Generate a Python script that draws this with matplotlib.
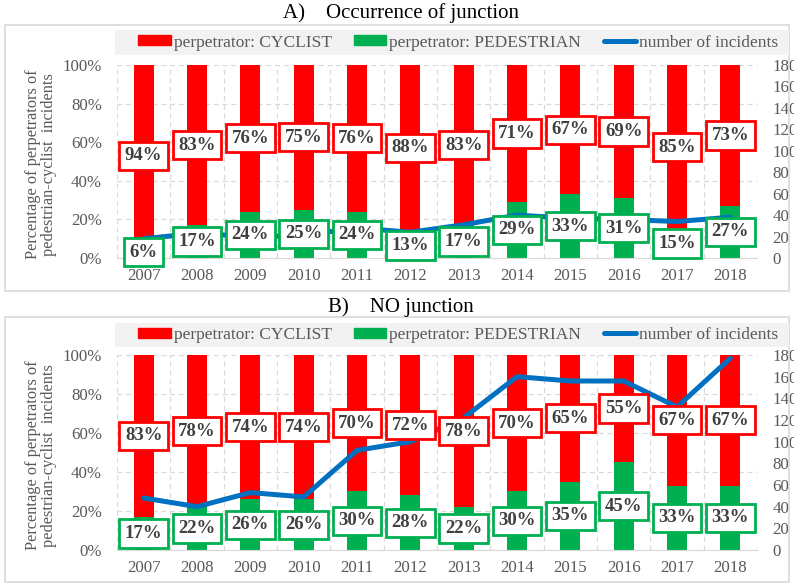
import matplotlib.pyplot as plt
from matplotlib.patches import Rectangle
from matplotlib.lines import Line2D
import numpy as np

plt.rcParams['font.family'] = ['Liberation Serif', 'DejaVu Serif']

years = ['2007', '2008', '2009', '2010', '2011', '2012',
         '2013', '2014', '2015', '2016', '2017', '2018']

# A) occurrence of junction
cyclist_a = [94, 83, 76, 75, 76, 88, 83, 71, 67, 69, 85, 73]
pedestrian_a = [6, 17, 24, 25, 24, 13, 17, 29, 33, 31, 15, 27]
incidents_a = [18, 23, 20, 21, 28, 24, 31, 40, 37, 36, 34, 38]

# B) no junction
cyclist_b = [83, 78, 74, 74, 70, 72, 78, 70, 65, 55, 67, 67]
pedestrian_b = [17, 22, 26, 26, 30, 28, 22, 30, 35, 45, 33, 33]
incidents_b = [48, 40, 53, 49, 92, 100, 122, 160, 156, 156, 132, 177]

RED = '#FF0000'
GREEN = '#00B050'
BLUE = '#0070C0'
GRAY = '#595959'
GRID = '#D9D9D9'

fig = plt.figure(figsize=(7.94, 5.83), dpi=100)


def panel(box, ax_rect, band, title_y, title, cyc, ped, inc):
    # frame round the panel and grey legend band
    fig.patches.append(Rectangle((box[0], box[1]), box[2], box[3],
                                 transform=fig.transFigure, fill=False,
                                 edgecolor=GRID, lw=1.2))
    fig.patches.append(Rectangle((band[0], band[1]), band[2], band[3],
                                 transform=fig.transFigure,
                                 facecolor='#F2F2F2', edgecolor='none'))
    fig.text(0.505, title_y, title, ha='center', va='center', fontsize=15)

    ax = fig.add_axes(ax_rect)
    x = np.arange(len(years))
    ax.bar(x, ped, width=0.38, color=GREEN)
    ax.bar(x, cyc, bottom=ped, width=0.38, color=RED)
    ax.set_xlim(-0.5, len(years) - 0.5)
    ax.set_ylim(0, 100)
    ax.set_yticks(np.arange(0, 101, 20))
    ax.set_yticklabels(['%d%%' % v for v in range(0, 101, 20)])
    ax.set_xticks(x)
    ax.set_xticklabels(years)
    ax.set_xticks(np.arange(-0.5, len(years), 1), minor=True)
    ax.set_axisbelow(True)
    ax.grid(axis='y', which='major', ls=(0, (4, 3)), color=GRID, lw=0.9)
    ax.grid(axis='x', which='minor', ls=(0, (4, 3)), color=GRID, lw=0.9)
    for s in ['top', 'left', 'right']:
        ax.spines[s].set_visible(False)
    ax.spines['bottom'].set_color(GRID)
    ax.tick_params(axis='both', which='both', length=0, colors=GRAY,
                   labelsize=12.2)
    ax.tick_params(axis='y', pad=11)
    ax.tick_params(axis='x', pad=7)

    ax2 = ax.twinx()
    ax2.plot(x, inc, color=BLUE, lw=3.6, solid_capstyle='round',
             solid_joinstyle='round')
    ax2.set_ylim(0, 180)
    ax2.set_yticks(np.arange(0, 181, 20))
    for s in ax2.spines.values():
        s.set_visible(False)
    ax2.tick_params(axis='y', length=0, colors=GRAY, labelsize=12.2, pad=11)

    # labels sit above the line, so draw them on the twin axis
    for i in range(len(years)):
        ax2.text(i, ped[i] + cyc[i] / 2, '%d%%' % cyc[i], transform=ax.transData,
                 ha='center', va='center', fontsize=13.5, fontweight='bold',
                 color='#404040', zorder=5,
                 bbox=dict(boxstyle='square,pad=0.3', fc='white', ec=RED, lw=2))
        ax2.text(i, ped[i] / 2, '%d%%' % ped[i], transform=ax.transData,
                 ha='center', va='center', fontsize=13.5, fontweight='bold',
                 color='#404040', zorder=5,
                 bbox=dict(boxstyle='square,pad=0.3', fc='white', ec=GREEN, lw=2))

    handles = [Rectangle((0, 0), 1, 1, color=RED),
               Rectangle((0, 0), 1, 1, color=GREEN),
               Line2D([], [], color=BLUE, lw=3.6, solid_capstyle='round')]
    names = ['perpetrator: CYCLIST', 'perpetrator: PEDESTRIAN', 'number of incidents']
    leg = fig.legend(handles, names, loc='center', ncol=3, frameon=False,
                     bbox_to_anchor=(0.577, band[1] + band[3] / 2),
                     fontsize=12.5, handlelength=1.85, handleheight=0.5,
                     handletextpad=0.17, columnspacing=1.3, borderpad=0)
    for t in leg.get_texts():
        t.set_color(GRAY)

    fig.text(0.052, ax_rect[1] + ax_rect[3] / 2 - 0.005,
             'Percentage of perpetrators of\npedestrian-cyclist  incidents',
             rotation=90, ha='center', va='center', fontsize=11.8, color=GRAY,
             linespacing=1.0)
    return ax


panel((0.0063, 0.5009, 0.9874, 0.4562), (0.1474, 0.5575, 0.806, 0.331),
      (0.1448, 0.9057, 0.849, 0.0428), 0.978,
      'A)    Occurrence of junction', cyclist_a, pedestrian_a, incidents_a)
panel((0.0063, 0.0017, 0.9874, 0.4546), (0.1474, 0.0566, 0.806, 0.3345),
      (0.1448, 0.4048, 0.849, 0.0412), 0.4725,
      'B)    NO junction', cyclist_b, pedestrian_b, incidents_b)

fig.savefig('out.png', dpi=100)
